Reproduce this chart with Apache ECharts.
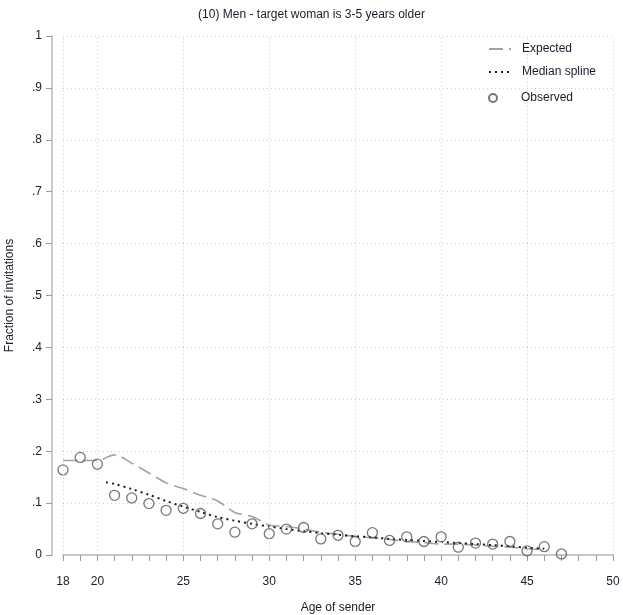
<!DOCTYPE html>
<html>
<head>
<meta charset="utf-8">
<script src="https://cdn.jsdelivr.net/npm/echarts@6/dist/echarts.min.js"></script>
<style>
  html, body { margin: 0; padding: 0; background: #fff; }
  #chart { width: 623px; height: 615px; }
</style>
</head>
<body>
<div id="chart"></div>
<script>
// Observed fraction of invitations by age of sender
const obsAges = [18, 19, 20, 21, 22, 23, 24, 25, 26, 27, 28, 29, 30, 31, 32, 33, 34, 35, 36, 37, 38, 39, 40, 41, 42, 43, 44, 45, 46, 47];
const obsValues = [0.164, 0.188, 0.175, 0.115, 0.110, 0.099, 0.086, 0.090, 0.080, 0.060, 0.044, 0.060, 0.041, 0.050, 0.053, 0.031, 0.038, 0.026, 0.043, 0.028, 0.035, 0.026, 0.035, 0.015, 0.023, 0.021, 0.026, 0.008, 0.016, 0.002];

// Expected fraction
const expAges = [18, 19, 20, 21, 22, 23, 24, 25, 26, 27, 28, 29, 30, 31, 32, 33, 34, 35, 36, 37, 38, 39, 40, 41, 42, 43, 44, 45, 46];
const expValues = [0.182, 0.182, 0.182, 0.193, 0.177, 0.158, 0.139, 0.128, 0.115, 0.104, 0.082, 0.074, 0.058, 0.055, 0.050, 0.044, 0.040, 0.036, 0.033, 0.030, 0.026, 0.024, 0.021, 0.021, 0.019, 0.017, 0.015, 0.012, 0.010];

// Median spline through the observed values
const splineAges = [20.5, 21, 22, 23, 24, 25, 26, 27, 28, 29, 30, 31, 32, 33, 34, 35, 36, 37, 38, 39, 40, 41, 42, 43, 44, 45, 46];
const splineValues = [0.140, 0.137, 0.127, 0.116, 0.104, 0.093, 0.083, 0.073, 0.066, 0.060, 0.055, 0.050, 0.046, 0.042, 0.039, 0.036, 0.034, 0.031, 0.029, 0.027, 0.025, 0.023, 0.021, 0.019, 0.017, 0.014, 0.012];

// Axis labels
const xLabelValues = [18, 20, 25, 30, 35, 40, 45, 50];
const xGridValues = [18, 20, 25, 30, 35, 40, 45, 50];

const zip = (xs, ys) => xs.map((x, i) => [x, ys[i]]);

const textColor = '#1b1b2b';
const fontFamily = '"Liberation Sans", Arial, sans-serif';
const gridLine = { color: '#cfcfcf', width: 1, type: [1, 3] };
const hiddenSymbol = { color: 'rgba(0,0,0,0)', borderWidth: 0 };

const chart = echarts.init(document.getElementById('chart'), null, { renderer: 'canvas' });

chart.setOption({
  animation: false,
  backgroundColor: '#ffffff',
  textStyle: { fontFamily: fontFamily, color: textColor },
  title: {
    text: '(10) Men - target woman is 3-5 years older',
    left: 'center',
    top: 4,
    textStyle: { fontSize: 12, fontWeight: 'normal', color: textColor, fontFamily: fontFamily }
  },
  legend: [
    {
      orient: 'vertical',
      left: 483,
      top: 38,
      itemWidth: 22,
      itemHeight: 14,
      itemGap: 11,
      textStyle: { fontSize: 12, color: textColor, fontFamily: fontFamily, padding: [0, 0, 0, 6] },
      data: [
        { name: 'Expected', itemStyle: hiddenSymbol },
        { name: 'Median spline', itemStyle: hiddenSymbol }
      ]
    },
    {
      orient: 'vertical',
      left: 483,
      top: 87,
      itemWidth: 22,
      itemHeight: 8,
      textStyle: { fontSize: 12, color: textColor, fontFamily: fontFamily, padding: [0, 0, 0, 12] },
      data: [{ name: 'Observed', icon: 'circle' }]
    }
  ],
  grid: { left: 63, right: 10, top: 36, bottom: 60, containLabel: false, outerBoundsMode: 'none' },
  xAxis: {
    type: 'value',
    min: 18,
    max: 50,
    interval: 1,
    offset: 11,
    name: 'Age of sender',
    nameLocation: 'middle',
    nameGap: 36,
    nameTextStyle: { fontSize: 12, color: textColor },
    axisLine: { show: true, lineStyle: { color: '#c8c8c8', width: 2 } },
    axisTick: { show: true, length: 6, lineStyle: { color: '#9a9a9a', width: 1 } },
    axisLabel: {
      fontSize: 12,
      color: textColor,
      margin: 10,
      formatter: v => (xLabelValues.indexOf(v) >= 0 ? String(v) : '')
    },
    splitLine: { show: false }
  },
  yAxis: {
    type: 'value',
    min: 0,
    max: 1,
    interval: 0.1,
    offset: 11,
    name: 'Fraction of invitations',
    nameLocation: 'middle',
    nameGap: 36,
    nameTextStyle: { fontSize: 12, color: textColor },
    axisLine: { show: true, lineStyle: { color: '#c8c8c8', width: 2 } },
    axisTick: { show: true, length: 6, lineStyle: { color: '#9a9a9a', width: 1 } },
    axisLabel: {
      fontSize: 12,
      color: textColor,
      margin: 10,
      formatter: v => {
        const r = Math.round(v * 10) / 10;
        if (r === 0) return '0';
        if (r === 1) return '1';
        return String(r).replace(/^0/, '');
      }
    },
    splitLine: { show: true, lineStyle: gridLine }
  },
  series: [
    {
      name: 'Expected',
      type: 'line',
      data: zip(expAges, expValues),
      symbol: 'none',
      smooth: 0.3,
      lineStyle: { color: '#a3a3a3', width: 1.6, type: [14, 6] },
      itemStyle: { color: '#a3a3a3' },
      z: 2,
      markLine: {
        silent: true,
        symbol: 'none',
        label: { show: false },
        lineStyle: gridLine,
        data: xGridValues.map(v => ({ xAxis: v }))
      }
    },
    {
      name: 'Median spline',
      type: 'line',
      data: zip(splineAges, splineValues),
      symbol: 'none',
      smooth: 0.3,
      lineStyle: { color: '#1a1a1a', width: 2, type: [2, 4] },
      itemStyle: { color: '#1a1a1a' },
      z: 3
    },
    {
      name: 'Observed',
      type: 'scatter',
      data: zip(obsAges, obsValues),
      symbol: 'circle',
      symbolSize: 10,
      itemStyle: { color: 'rgba(255,255,255,0)', borderColor: '#555555', borderWidth: 1.3 },
      z: 4
    }
  ]
});
</script>
</body>
</html>
